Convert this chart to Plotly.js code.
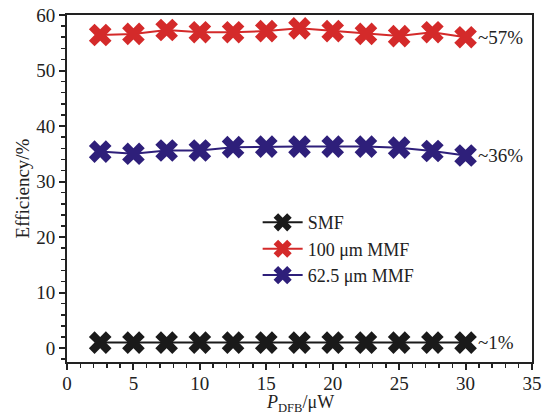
<!DOCTYPE html>
<html><head><meta charset="utf-8">
<script src="https://cdn.plot.ly/plotly-3.0.1.min.js"></script>
<style>body{margin:0;padding:0;background:#fff}#c{width:542px;height:414px}</style>
</head><body><div id="c"></div>
<script>
const power = [2.5,5,7.5,10,12.5,15,17.5,20,22.5,25,27.5,30];
const smf = [1,1,1,1,1,1,1,1,1,1,1,1];
const mmf100 = [56.4,56.6,57.3,56.9,56.9,57.1,57.6,57.1,56.6,56.2,56.9,56.0];
const mmf625 = [35.4,35.0,35.6,35.6,36.2,36.3,36.3,36.3,36.3,36.1,35.5,34.7];
const names = ["SMF","100 μm MMF","62.5 μm MMF"];
const labels = ["~1%","~57%","~36%"];
const colors = ["#1a1a1a","#d42a2a","#2e1f7a"];
const series = [smf, mmf100, mmf625];
const F = '"Liberation Serif", "Times New Roman", Times, serif';
const traces = series.map((s,i)=>({
  x: power, y: s, name: names[i], type:'scatter', mode:'lines+markers',
  line:{color:colors[i], width:2},
  marker:{symbol:'x', size:20, color:colors[i], line:{width:0}}
}));
const annotations = series.map((s,i)=>({
  x: power[power.length-1], y: s[s.length-1], xref:'x', yref:'y',
  text: labels[i], showarrow:false, xanchor:'left', xshift:10,
  font:{family:F, size:19, color:'#222'}
}));
annotations.push({
  x:0.5, y:-0.12, xref:'paper', yref:'paper', xanchor:'center', yanchor:'middle',
  text:'<i>P</i><sub>DFB</sub>/μW', showarrow:false, font:{family:F, size:18, color:'#222'}
});
Plotly.newPlot('c', traces, {
  width:542, height:414,
  margin:{l:67, r:10, t:15, b:52},
  paper_bgcolor:'#fff', plot_bgcolor:'#fff',
  font:{family:F, size:19, color:'#222'},
  showlegend:true,
  legend:{x:0.41, y:0.455, xanchor:'left', yanchor:'top', bgcolor:'rgba(0,0,0,0)',
    font:{family:F, size:18, color:'#222'}, tracegroupgap:0, itemwidth:40},
  xaxis:{range:[0,35], tickvals:[0,5,10,15,20,25,30,35], showgrid:false, zeroline:false,
    showline:true, linecolor:'#222', linewidth:2, mirror:true,
    ticks:'outside', ticklen:6, tickwidth:2, tickcolor:'#222', ticklabelstandoff:-3,
    tickfont:{family:F, size:19},
    minor:{dtick:1, ticks:'outside', ticklen:4, tickwidth:1.5, tickcolor:'#222'}},
  yaxis:{range:[-2.5,60], tickvals:[0,10,20,30,40,50,60], showgrid:false, zeroline:false,
    showline:true, linecolor:'#222', linewidth:2, mirror:true,
    ticks:'outside', ticklen:6, tickwidth:2, tickcolor:'#222',
    minor:{dtick:2, ticks:'outside', ticklen:4, tickwidth:1.5, tickcolor:'#222'},
    title:{text:'Efficiency/%', font:{family:F, size:19}, standoff:2}},
  annotations: annotations
}, {staticPlot:true});
</script></body></html>
